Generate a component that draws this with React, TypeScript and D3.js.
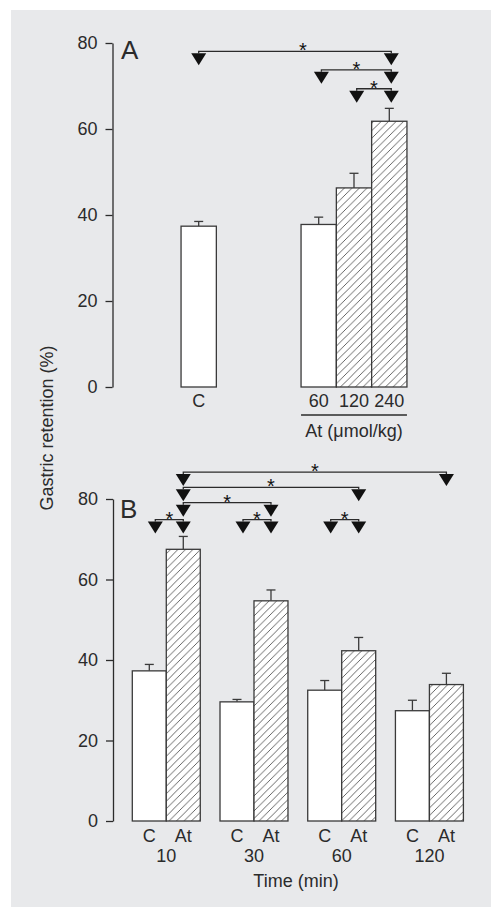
import React, { useEffect, useRef } from "react";
import * as d3 from "d3";

// Panel A: dose response
const doseLabels = ["60", "120", "240"];
const controlA = 37.4;
const controlAErr = 1.1;
const doseValues = [37.8, 46.3, 61.8];
const doseErr = [1.7, 3.4, 3.0];

// Panel B: time course
const times = ["10", "30", "60", "120"];
const controlValues = [37.3, 29.6, 32.5, 27.4];
const controlErr = [1.6, 0.6, 2.4, 2.6];
const atValues = [67.5, 54.7, 42.3, 33.9];
const atErr = [3.2, 2.7, 3.3, 2.8];

const yTicks = [0, 20, 40, 60, 80];

// significance brackets, level = triangle top in % units
const bracketsA = [
  { from: "C", to: "240", level: 77.6 },
  { from: "60", to: "240", level: 73.3 },
  { from: "120", to: "240", level: 68.9 },
];
const bracketsB = [
  { from: "At10", to: "At120", level: 86.2 },
  { from: "At10", to: "At60", level: 82.4 },
  { from: "At10", to: "At30", level: 78.6 },
  { from: "C10", to: "At10", level: 74.4 },
  { from: "C30", to: "At30", level: 74.4 },
  { from: "C60", to: "At60", level: 74.4 },
];

const W = 491;
const H = 907;
const FONT = "'Liberation Sans', Arial, Helvetica, sans-serif";
const INK = "#2b2b2b";
const BAR_STROKE = "#3a3a3a";

const yA = d3.scaleLinear().domain([0, 80]).range([387, 43]);
const yB = d3.scaleLinear().domain([0, 80]).range([821, 499]);

// A: group centers (control, atropine doses)
const groupA = d3.scaleLinear().domain([0, 1]).range([198.7, 354]);
const bwA = 35.3;
const doseX = d3
  .scaleBand()
  .domain(doseLabels)
  .range([groupA(1) - 1.5 * bwA, groupA(1) + 1.5 * bwA]);

// B: time groups with two bars
const timeX = d3
  .scaleBand()
  .domain(times)
  .range([132.3, 463.4])
  .paddingInner(0.225)
  .paddingOuter(0);
const seriesX = d3.scaleBand().domain(["C", "At"]).range([0, timeX.bandwidth()]);

const centerA = (k: string) =>
  k === "C" ? groupA(0) : (doseX(k) as number) + doseX.bandwidth() / 2;
const centerB = (k: string) => {
  const s = k.startsWith("At") ? "At" : "C";
  const t = k.slice(s.length);
  return (timeX(t) as number) + (seriesX(s) as number) + seriesX.bandwidth() / 2;
};

function Tri({ cx, top }: { cx: number; top: number }) {
  return <path d={`M${cx - 7.5},${top}L${cx + 7.5},${top}L${cx},${top + 12}Z`} fill="#111" />;
}

function Bar({ x, w, y, v, e, hatch }: any) {
  return (
    <g>
      <line x1={x + w / 2} x2={x + w / 2} y1={y(v)} y2={y(v + e)} stroke={BAR_STROKE} strokeWidth={1.3} />
      <line x1={x + w / 2 - 4.5} x2={x + w / 2 + 4.5} y1={y(v + e)} y2={y(v + e)} stroke={BAR_STROKE} strokeWidth={1.3} />
      <rect
        x={x}
        y={y(v)}
        width={w}
        height={y(0) - y(v)}
        fill={hatch ? "url(#hatch)" : "#fff"}
        stroke={BAR_STROKE}
        strokeWidth={1.3}
      />
    </g>
  );
}

function Bracket({ x1, x2, top, shiftLeft = 0, starX }: any) {
  const lx = x1 + shiftLeft;
  const ly = top - 2;
  return (
    <g>
      <path d={`M${lx},${top}V${ly}H${x2}V${top}`} fill="none" stroke={INK} strokeWidth={1.3} />
      <Tri cx={lx} top={top} />
      <Tri cx={x2} top={top} />
      <text x={starX ?? (lx + x2) / 2} y={ly + 6} textAnchor="middle" fontSize={20} fill="#111">
        *
      </text>
    </g>
  );
}

export default function App() {
  const axA = useRef<SVGGElement>(null);
  const axB = useRef<SVGGElement>(null);

  useEffect(() => {
    const draw = (ref: React.RefObject<SVGGElement>, y: any) => {
      const g = d3.select(ref.current);
      g.selectAll("*").remove();
      g.call(d3.axisLeft(y).tickValues(yTicks).tickSize(7).tickSizeOuter(0).tickPadding(8));
      g.selectAll("path, line").attr("stroke", INK).attr("stroke-width", 1.3);
      g.selectAll("text")
        .attr("fill", INK)
        .style("font-family", FONT)
        .style("font-size", "18px");
    };
    draw(axA, yA);
    draw(axB, yB);
  }, []);

  const bandB = seriesX.bandwidth();

  return (
    <svg
      width={W}
      height={H}
      style={{ position: "absolute", left: 0, top: 0, display: "block" }}
      fontFamily={FONT}
    >
      <defs>
        <pattern id="hatch" patternUnits="userSpaceOnUse" width={7.5} height={7.5}>
          <rect width={7.5} height={7.5} fill="#fff" />
          <path d="M0,7.5L7.5,0M-2,2L2,-2M5.5,9.5L9.5,5.5" stroke="#555" strokeWidth={0.9} />
        </pattern>
      </defs>
      <rect x={0} y={0} width={W} height={H} fill="#fff" />
      <rect x={11} y={10} width={W - 11} height={H - 10} fill="#e8e9eb" />

      {/* Y title */}
      <text
        transform={`translate(52.5,428) rotate(-90)`}
        textAnchor="middle"
        fontSize={18}
        fill={INK}
      >
        Gastric retention (%)
      </text>

      {/* Panel A */}
      <g ref={axA} transform="translate(112.5,0)" />
      <text x={121} y={59} fontSize={26} fill={INK}>
        A
      </text>
      <Bar x={groupA(0) - bwA / 2} w={bwA} y={yA} v={controlA} e={controlAErr} hatch={false} />
      {doseLabels.map((d, i) => (
        <Bar
          key={d}
          x={doseX(d)}
          w={doseX.bandwidth()}
          y={yA}
          v={doseValues[i]}
          e={doseErr[i]}
          hatch={i > 0}
        />
      ))}
      <text x={groupA(0)} y={407} textAnchor="middle" fontSize={18} fill={INK}>
        C
      </text>
      {doseLabels.map((d) => (
        <text key={d} x={centerA(d)} y={407} textAnchor="middle" fontSize={18} fill={INK}>
          {d}
        </text>
      ))}
      <line x1={doseX.range()[0]} x2={doseX.range()[1]} y1={415} y2={415} stroke={INK} strokeWidth={1.3} />
      <text x={groupA(1)} y={437} textAnchor="middle" fontSize={18} fill={INK}>
        At (μmol/kg)
      </text>
      {bracketsA.map((b, i) => (
        <Bracket
          key={i}
          x1={centerA(b.from) + (i > 0 ? 2.7 : 0)}
          x2={centerA(b.to) + 2}
          top={yA(b.level)}
          starX={i === 0 ? 303 : undefined}
        />
      ))}

      {/* Panel B */}
      <g ref={axB} transform="translate(113,0)" />
      <text x={120} y={518} fontSize={26} fill={INK}>
        B
      </text>
      {times.map((t, i) => (
        <g key={t}>
          <Bar
            x={(timeX(t) as number) + (seriesX("C") as number)}
            w={bandB}
            y={yB}
            v={controlValues[i]}
            e={controlErr[i]}
            hatch={false}
          />
          <Bar
            x={(timeX(t) as number) + (seriesX("At") as number)}
            w={bandB}
            y={yB}
            v={atValues[i]}
            e={atErr[i]}
            hatch={true}
          />
          <text x={centerB("C" + t)} y={842} textAnchor="middle" fontSize={18} fill={INK}>
            C
          </text>
          <text x={centerB("At" + t)} y={842} textAnchor="middle" fontSize={18} fill={INK}>
            At
          </text>
          <text
            x={(timeX(t) as number) + timeX.bandwidth() / 2}
            y={862}
            textAnchor="middle"
            fontSize={18}
            fill={INK}
          >
            {t}
          </text>
        </g>
      ))}
      <text x={296} y={887} textAnchor="middle" fontSize={18} fill={INK}>
        Time (min)
      </text>
      {bracketsB.map((b, i) => (
        <Bracket
          key={i}
          x1={centerB(b.from)}
          x2={centerB(b.to)}
          top={yB(b.level)}
          shiftLeft={b.from.startsWith("C") ? 6 : 0}
        />
      ))}
    </svg>
  );
}
